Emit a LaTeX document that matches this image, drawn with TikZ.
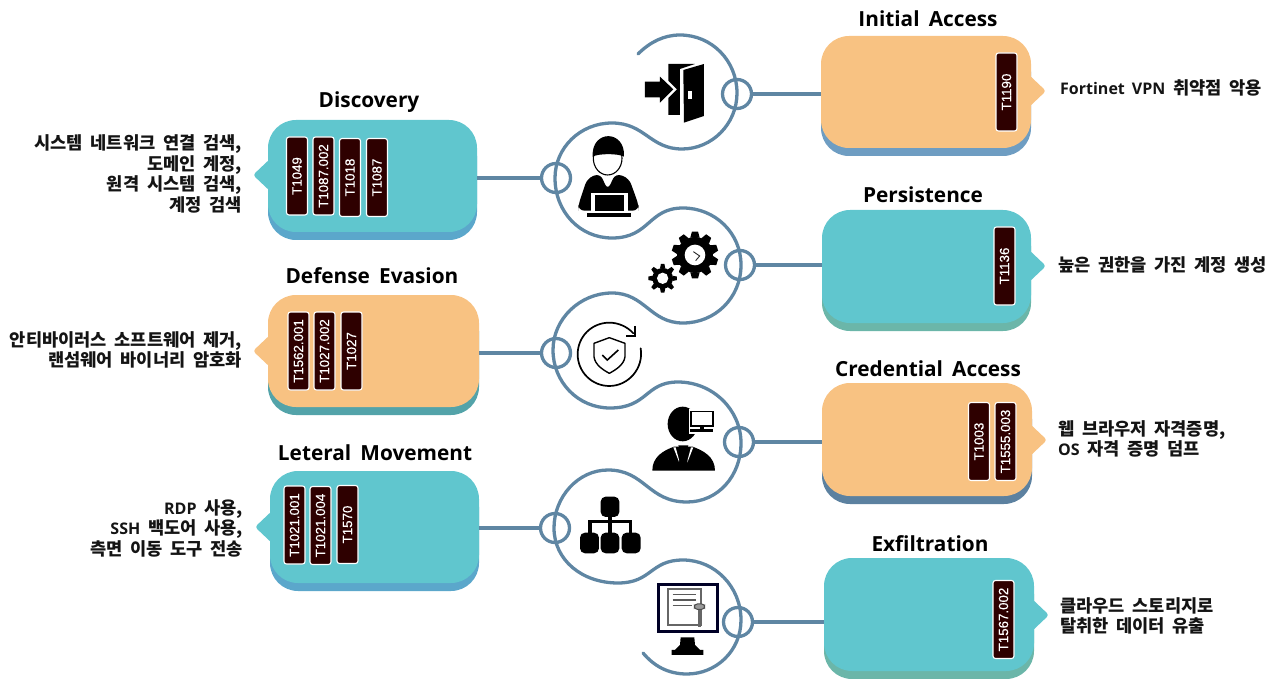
\documentclass[tikz,border=0pt]{standalone}
\usepackage{fontspec}
\setmainfont{Noto Sans CJK KR}[WordSpace=1.9]
\newfontfamily\ttl{Open Sans}[WordSpace=1.7]
\newfontfamily\bdg{Liberation Sans}[FakeBold=0.4]
\newcommand{\lat}[1]{{\ttl\fontsize{16}{20.5}\selectfont #1}}
\definecolor{teal}{HTML}{60C6CE}
\definecolor{orng}{HTML}{F8C282}
\definecolor{snk}{HTML}{5F86A3}
\definecolor{bdgc}{HTML}{2E0000}
\definecolor{shA}{HTML}{5BA7CB}
\definecolor{shB}{HTML}{53A3A9}
\definecolor{shC}{HTML}{6E9DC2}
\definecolor{shD}{HTML}{6BB6A9}
\definecolor{shE}{HTML}{5C81A0}
\tikzset{
  cardbox/.style={rectangle,rounded corners=28pt,anchor=north west,inner sep=0pt,outer sep=0pt},
  badge/.style={rectangle,rounded corners=2.5pt,rotate=90,fill=bdgc,draw=white,line width=1.1pt,text=white,minimum width=78pt,minimum height=21pt,inner sep=0pt,font=\bdg\fontsize{13.3}{13}\selectfont},
  ring/.style={circle,draw=snk,line width=3.3pt,minimum size=29pt,inner sep=0pt,outer sep=0pt},
  link/.style={draw=snk,line width=3.3pt},
  snake/.style={draw=snk,line width=3.3pt,line cap=round},
  ttlbox/.style={font=\ttl\bfseries\fontsize{20.8}{24}\selectfont,inner sep=0pt},
  desc/.style={font=\bfseries\fontsize{17.6}{20.5}\selectfont,inner sep=0pt,text=black!92},
  leftdesc/.style={desc,align=right,anchor=east},
  rightdesc/.style={desc,align=left,anchor=west}
}
% name, left, right, top, front bottom, tip y, tip side (-1 left, 1 right), fill, shadow
\newcommand{\Card}[9]{%
  \pgfmathsetmacro{\cw}{#3-#2}\pgfmathsetmacro{\ch}{#5-#4}
  \pgfmathsetmacro{\bs}{#4+8}
  \node[cardbox,fill=#9,minimum width=\cw pt,minimum height=\ch pt] (#1s) at (#2,\bs) {};
  \pgfmathsetmacro{\ex}{#7<0?#2+4:#3-4}\pgfmathsetmacro{\tx}{#7<0?#2-15:#3+15}
  \pgfmathsetmacro{\ya}{#6-18}\pgfmathsetmacro{\yb}{#6+18}
  \fill[#8,rounded corners=3pt] (\ex,\ya) -- (\tx,#6) -- (\ex,\yb) -- cycle;
  \node[cardbox,fill=#8,minimum width=\cw pt,minimum height=\ch pt] (#1) at (#2,#4) {};
}
\newcommand{\Gear}[6]{% cx cy outer root hole teeth
  \begin{scope}[shift={(#1,#2)}]
    \fill[black] (0,0) circle (#4);
    \foreach \a in {1,...,#6}{
      \pgfmathsetmacro{\ang}{360/#6*\a}
      \pgfmathsetmacro{\wa}{#4*0.26}\pgfmathsetmacro{\wb}{#4*0.17}
      \fill[black,rotate=\ang] (-\wa,#4-2) -- (-\wb,#3) -- (\wb,#3) -- (\wa,#4-2) -- cycle;
    }
    \fill[white] (0,0) circle (#5);
  \end{scope}
}
\begin{document}
\begin{tikzpicture}[x=1pt,y=-1pt]
\useasboundingbox (0,0) rectangle (1277,679);

% cards
\Card{disc}{268}{477}{120}{232}{175}{-1}{teal}{shA}
\Card{defe}{268}{479}{295}{407}{351}{-1}{orng}{shB}
\Card{late}{270}{479}{471}{583}{527}{-1}{teal}{shA}
\Card{init}{821}{1031}{36}{148}{91}{1}{orng}{shC}
\Card{pers}{822}{1031}{210}{323}{266}{1}{teal}{shD}
\Card{cred}{822}{1032}{383}{496}{440}{1}{orng}{shE}
\Card{exfi}{824}{1034}{558}{671}{615}{1}{teal}{shD}

% badges
\node[badge] (b1) at (297,176) {T1049};
\node[badge] (b2) at (323.5,176) {T1087.002};
\node[badge] (b3) at (350,177.5) {T1018};
\node[badge] (b4) at (377,177.5) {T1087};
\node[badge] (b5) at (298.5,351) {T1562.001};
\node[badge] (b6) at (324.5,351) {T1027.002};
\node[badge] (b7) at (351.5,351) {T1027};
\node[badge] (b8) at (294.5,525) {T1021.001};
\node[badge] (b9) at (320.5,525.5) {T1021.004};
\node[badge] (b10) at (347.5,524.5) {T1570};
\node[badge] (b11) at (1006.5,92) {T1190};
\node[badge] (b12) at (1004.5,266) {T1136};
\node[badge] (b13) at (979,441.5) {T1003};
\node[badge] (b14) at (1005.5,441.5) {T1555.003};
\node[badge] (b15) at (1003.5,619.5) {T1567.002};

% titles
\node[ttlbox] (t1) at (928,19) {Initial Access};
\node[ttlbox] (t2) at (369,102) {Discovery};
\node[ttlbox] (t3) at (923,195) {Persistence};
\node[ttlbox] (t4) at (372,276) {Defense Evasion};
\node[ttlbox] (t5) at (928,369) {Credential Access};
\node[ttlbox] (t6) at (375,453) {Leteral Movement};
\node[ttlbox] (t7) at (930,544) {Exfiltration};

% descriptions
\node[leftdesc] (d1) at (242,174) {시스템 네트워크 연결 검색,\\도메인 계정,\\원격 시스템 검색,\\계정 검색};
\node[leftdesc] (d2) at (242,350) {안티바이러스 소프트웨어 제거,\\랜섬웨어 바이너리 암호화};
\node[leftdesc] (d3) at (243,528) {\lat{RDP} 사용,\\\lat{SSH} 백도어 사용,\\측면 이동 도구 전송};
\node[rightdesc] (d4) at (1060,88) {\lat{Fortinet VPN} 취약점 악용};
\node[rightdesc] (d5) at (1058,265) {높은 권한을 가진 계정 생성};
\node[rightdesc] (d6) at (1058,439) {웹 브라우저 자격증명,\\\lat{OS} 자격 증명 덤프};
\node[rightdesc] (d7) at (1060,616) {클라우드 스토리지로\\탈취한 데이터 유출};

% snake
\draw[snake] (638,54) .. controls (650,42) and (664,35) .. (680,35)
  .. controls (712,35) and (737,61) .. (737,93)
  .. controls (737,124) and (712,149) .. (682,149)
  .. controls (650,149) and (645,123) .. (612,123)
  .. controls (580,123) and (555,148) .. (555,178)
  .. controls (555,212) and (580,238) .. (612,238)
  .. controls (650,238) and (648,208) .. (683,208)
  .. controls (715,208) and (741,233) .. (741,265)
  .. controls (741,298) and (715,323) .. (683,323)
  .. controls (650,323) and (645,293) .. (612,293)
  .. controls (580,293) and (553,319) .. (553,350)
  .. controls (553,382) and (578,408) .. (610,408)
  .. controls (648,408) and (645,382) .. (678,382)
  .. controls (713,382) and (741,410) .. (741,443)
  .. controls (741,476) and (718,502) .. (687,502)
  .. controls (648,502) and (645,470) .. (608,470)
  .. controls (578,470) and (554,497) .. (554,528)
  .. controls (554,560) and (582,583) .. (618,583)
  .. controls (652,583) and (650,560) .. (683,560)
  .. controls (715,560) and (741,587) .. (741,620)
  .. controls (741,651) and (716,674) .. (687,674)
  .. controls (668,674) and (654,666) .. (643,653);

% rings and links
\node[ring] (r1) at (737,94) {};
\node[ring] (r2) at (556,178) {};
\node[ring] (r3) at (740,265) {};
\node[ring] (r4) at (556,353) {};
\node[ring] (r5) at (739,442) {};
\node[ring] (r6) at (555,528) {};
\node[ring] (r7) at (738,622) {};
\draw[link] (r1.east) -- (r1.east -| init.west);
\draw[link] (r2.west) -- (r2.west -| disc.east);
\draw[link] (r3.east) -- (r3.east -| pers.west);
\draw[link] (r4.west) -- (r4.west -| defe.east);
\draw[link] (r5.east) -- (r5.east -| cred.west);
\draw[link] (r6.west) -- (r6.west -| late.east);
\draw[link] (r7.east) -- (r7.east -| exfi.west);

% door icon
\begin{scope}[xshift=530pt,yshift=-20pt,x=.3333pt,y=-.3333pt]
  \fill (345,185) -- (390,185) -- (390,170) -- (430,208) -- (390,248) -- (390,232) -- (345,232) -- cycle;
  \fill (415,132) -- (495,132) -- (450,147) -- (450,285) -- (415,285) -- (415,234) -- (441,208) -- (415,182) -- cycle;
  \fill (460,150) -- (522,132) -- (522,288) -- (462,308) -- cycle;
  \fill[white] (473,212) rectangle (485,236);
  % person at laptop
  \fill[rounded corners=6pt] (145,572) -- (145,555) -- (172,475) -- (210,460) -- (233,510) -- (257,460) -- (297,475) -- (326,555) -- (326,572) -- cycle;
  \draw[black,fill=white,line width=1.1pt] (233,415) ellipse (43 and 50);
  \fill (188,410) .. controls (183,328) and (287,328) .. (282,410) .. controls (265,400) and (205,400) .. (188,410) -- cycle;
  \fill[white] (183,518) rectangle (293,580);
  \fill (194,524) rectangle (282,574);
  \fill (170,580) rectangle (303,590);
  % gears
  \Gear{495}{705}{70}{54}{31}{10}
  \draw[black!85,line width=.9pt] (490,695) -- (509,708) -- (497,722);
  \Gear{398}{775}{43}{31}{17}{8}
\end{scope}

% shield icon
\begin{scope}[xshift=570pt,yshift=-315pt,x=.3333pt,y=-.3333pt]
  \draw[line width=1.7pt,line cap=round] (212,100) .. controls (222,160) and (175,213) .. (118,213) .. controls (65,213) and (23,170) .. (23,118) .. controls (23,65) and (65,23) .. (118,23) .. controls (145,23) and (172,35) .. (190,55);
  \draw[line width=1.7pt] (195,33) -- (195,62) -- (167,62);
  \draw[line width=1.4pt,line join=round] (118,68) -- (72,85) -- (72,125) .. controls (75,150) and (100,165) .. (118,175) .. controls (136,165) and (162,150) .. (165,125) -- (165,85) -- cycle;
  \draw[line width=1.6pt] (97,120) -- (112,135) -- (145,105);
\end{scope}

\begin{scope}[xshift=530pt,yshift=-340pt,x=.3333pt,y=-.3333pt]
  % person with monitor
  \fill (458,252) ellipse (45 and 52);
  \fill[white] (476,206) rectangle (556,282);
  \draw[line width=1.2pt,fill=white] (483,214) rectangle (549,258);
  \fill (510,258) rectangle (522,268);
  \fill (481,268) rectangle (550,277);
  \fill (367,392) .. controls (367,350) and (400,332) .. (432,320) -- (488,320) .. controls (520,332) and (555,350) .. (555,392) -- cycle;
  \fill[white] (430,322) -- (437,322) -- (452,378) -- cycle;
  \fill[white] (490,322) -- (483,322) -- (468,378) -- cycle;
  \fill (445,316) -- (475,316) -- (467,342) -- (476,380) -- (444,380) -- (453,342) -- cycle;
  % network
  \draw[line width=3.3pt] (240,530) -- (240,578);
  \draw[line width=3.3pt] (180,578) -- (180,545) -- (302,545) -- (302,578);
  \fill[rounded corners=5pt] (212,470) rectangle (268,531);
  \fill[rounded corners=5pt] (150,578) rectangle (207,640);
  \fill[rounded corners=5pt] (212,578) rectangle (268,640);
  \fill[rounded corners=5pt] (275,578) rectangle (332,640);
  % exfiltration monitor
  \draw[color=black!85!blue,line width=2.4pt] (386,733) rectangle (562,875);
  \draw[color=black!60,line width=1.7pt] (414,748) rectangle (512,855);
  \draw[color=black!65,line width=1.1pt] (428,763) -- (498,763) (428,780) -- (498,780) (428,797) -- (485,797);
  \fill[black!60] (503,805) rectangle (512,860);
  \draw[black!70,fill=black!40,line width=1pt,rounded corners=3pt] (493,792) rectangle (524,808);
  \fill (450,915) -- (452,892) -- (493,892) -- (495,915) -- (510,930) -- (520,930) -- (520,945) -- (425,945) -- (425,930) -- (435,930) -- cycle;
\end{scope}
\end{tikzpicture}
\end{document}
